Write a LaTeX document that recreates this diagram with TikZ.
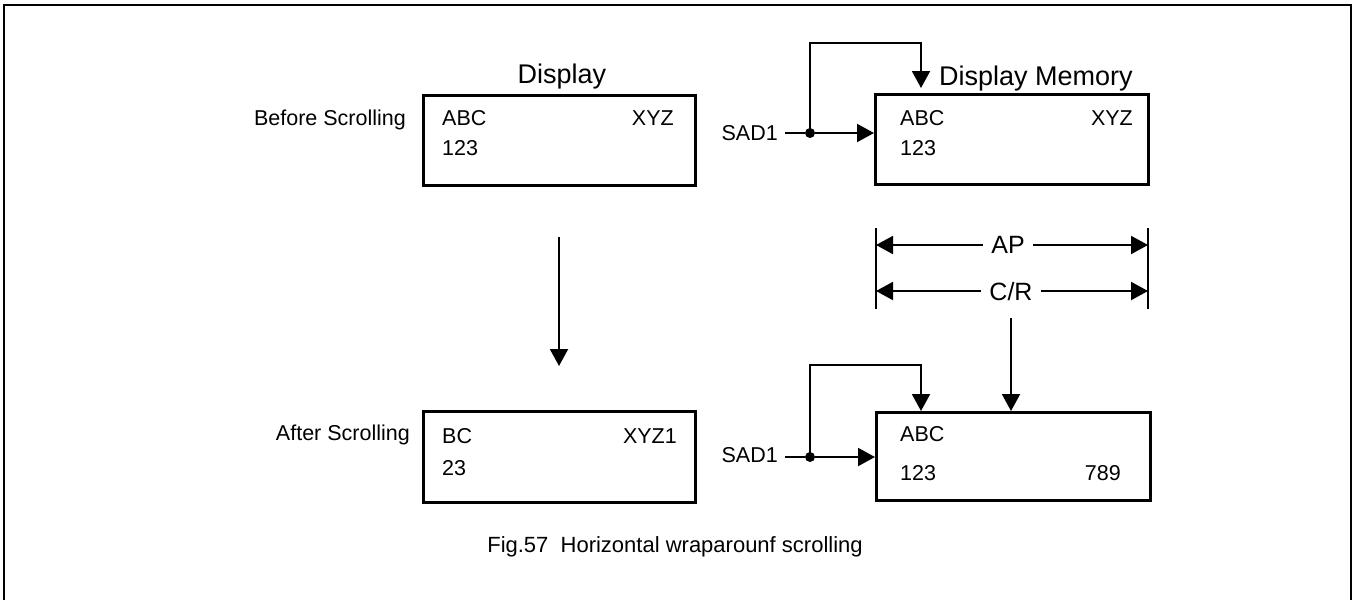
\documentclass[tikz,border=0pt]{standalone}
\usepackage{fontspec}
\setmainfont{Liberation Sans}
\usetikzlibrary{arrows.meta}
\begin{document}
\begin{tikzpicture}[x=1pt,y=-1pt,
  box/.style={draw,line width=2.6pt,inner sep=0pt,anchor=north west},
  conn/.style={line width=2pt},
  arr/.style={conn,-{Triangle[length=17pt,width=18pt]}},
  txt/.style={inner sep=0pt,font=\fontsize{21.5}{24}\selectfont},
  big/.style={inner sep=0pt,font=\fontsize{27}{30}\selectfont},
  dim/.style={inner sep=0pt,font=\fontsize{25}{28}\selectfont},
  dot/.style={circle,fill,inner sep=0pt,minimum size=10pt}]
\useasboundingbox (0,0) rectangle (1356,600);
% outer frame (open at bottom)
\draw[line width=2.6pt] (4,600) -- (4,5) -- (1351,5) -- (1351,600);
% boxes
\node[box,minimum width=272pt,minimum height=90pt] (dtop) at (422,94) {};
\node[box,minimum width=273pt,minimum height=90pt] (mtop) at (874,93) {};
\node[box,minimum width=272pt,minimum height=91pt] (dbot) at (422,410) {};
\node[box,minimum width=274pt,minimum height=88pt] (mbot) at (875,411) {};
% titles
\node[big,anchor=base] (tdisp) at (562,83) {Display};
\node[big,anchor=base west] (tmem) at (939,85) {Display Memory};
\node[txt,anchor=base east] (before) at (406,125) {Before Scrolling};
\node[txt,anchor=base east] (after) at (410,440) {After Scrolling};
% box contents
\node[txt,anchor=base west] (a1) at (442,125) {ABC};
\node[txt,anchor=base east] (x1) at (674,125) {XYZ};
\node[txt,anchor=base west] (n1) at (442,155) {123};
\node[txt,anchor=base west] (a2) at (900,125) {ABC};
\node[txt,anchor=base east] (x2) at (1133,125) {XYZ};
\node[txt,anchor=base west] (n2) at (900,155) {123};
\node[txt,anchor=base west] (a3) at (442,443) {BC};
\node[txt,anchor=base east] (x3) at (677,443) {XYZ1};
\node[txt,anchor=base west] (n3) at (442,475) {23};
\node[txt,anchor=base west] (a4) at (900,441) {ABC};
\node[txt,anchor=base west] (n4) at (900,480) {123};
\node[txt,anchor=base east] (x4) at (1121,480) {789};
% SAD1 top
\node[txt,anchor=base east] (sad1) at (778,140) {SAD1};
\node[dot] (d1) at (810,133) {};
\coordinate (c1a) at (810,43);
\coordinate (c1b) at (921,43);
\coordinate (t1) at (921,88);
\draw[conn] (785,133) -- (d1);
\draw[arr] (d1) -- (mtop.west |- d1);
\draw[arr] (d1.center) -- (c1a) -- (c1b) -- (t1);
% SAD1 bottom
\node[txt,anchor=base east] (sad2) at (778,462) {SAD1};
\node[dot] (d2) at (810,457) {};
\coordinate (c2a) at (810,365);
\coordinate (c2b) at (921,365);
\draw[conn] (785,457) -- (d2);
\draw[arr] (d2) -- (mbot.west |- d2);
\draw[arr] (d2.center) -- (c2a) -- (c2b) -- (921,411);
% dimension lines
\coordinate (tl) at (876,228);
\coordinate (bl) at (876,309);
\coordinate (tr) at (1148,228);
\coordinate (br) at (1148,309);
\draw[conn] (tl) -- (bl);
\draw[conn] (tr) -- (br);
\node[dim,anchor=base,inner xsep=8pt] (ap) at (1008,253) {AP};
\node[dim,anchor=base,inner xsep=8pt] (cr) at (1011,300) {C/R};
\draw[arr] (ap.west |- 0,245) -- (876,245);
\draw[arr] (ap.east |- 0,245) -- (1148,245);
\draw[arr] (cr.west |- 0,291) -- (876,291);
\draw[arr] (cr.east |- 0,291) -- (1148,291);
% vertical arrows
\coordinate (v1) at (1011,318);
\draw[arr] (v1) -- (mbot.north -| v1);
\coordinate (v2) at (559,237);
\draw[arr] (v2) -- (559,366);
% caption
\node[inner sep=0pt,anchor=base,font=\fontsize{22}{24}\selectfont] (cap) at (675,552) {Fig.57\ \ Horizontal wraparounf scrolling};
\end{tikzpicture}
\end{document}
